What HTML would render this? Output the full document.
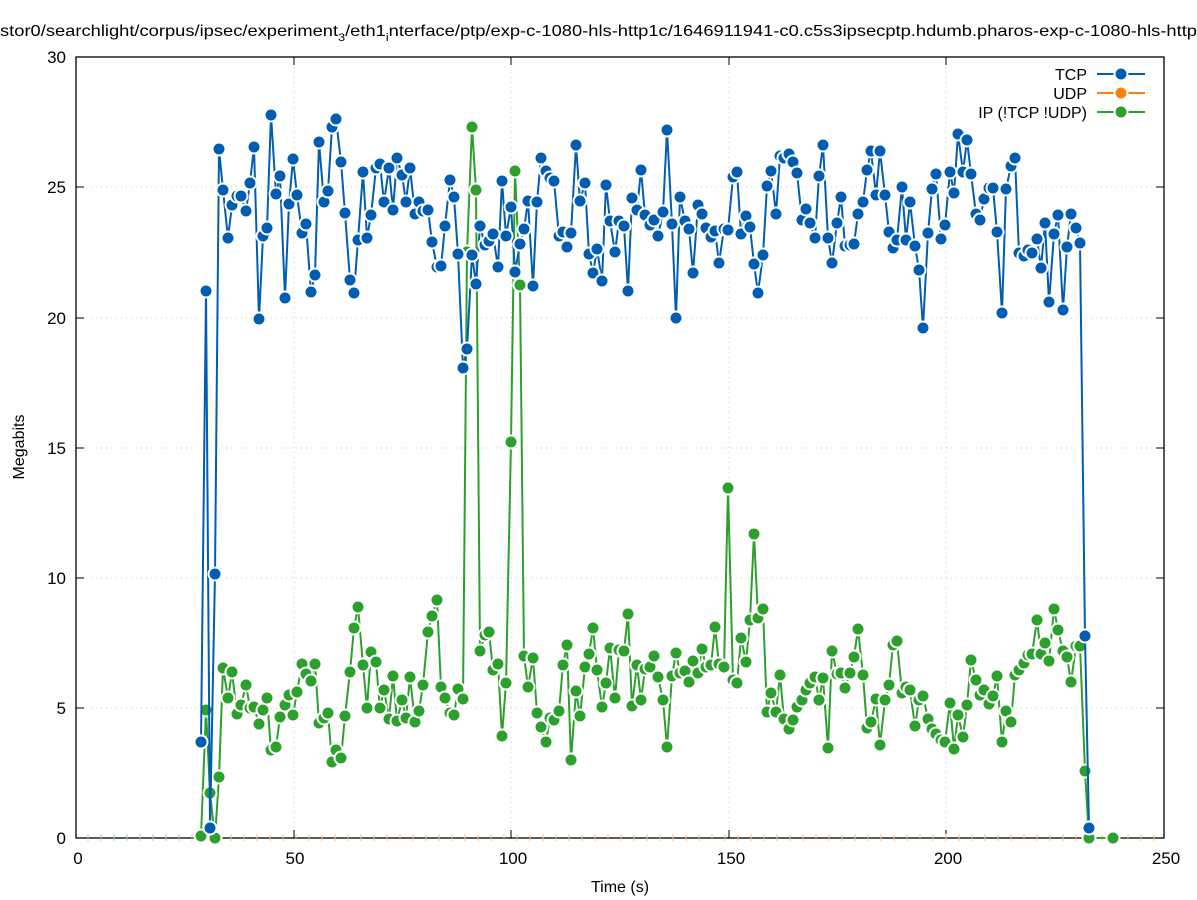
<!DOCTYPE html>
<html><head><meta charset="utf-8"><style>
html,body{margin:0;padding:0;background:#fff;}
svg{display:block;font-family:"Liberation Sans","DejaVu Sans",sans-serif;}
</style></head><body>
<svg id="s" width="1197" height="900" viewBox="0 0 1197 900" xmlns="http://www.w3.org/2000/svg">
<rect width="1197" height="900" fill="#fff"/>
<text x="0" y="36" font-size="16" textLength="1197" lengthAdjust="spacingAndGlyphs">stor0/searchlight/corpus/ipsec/experiment<tspan font-size="11" dy="5">3</tspan><tspan dy="-5">/eth1</tspan><tspan font-size="11" dy="5">i</tspan><tspan dy="-5">nterface/ptp/exp-c-1080-hls-http1c/1646911941-c0.c5s3ipsecptp.hdumb.pharos-exp-c-1080-hls-http</tspan></text>
<g stroke="#ccc" stroke-width="1" stroke-dasharray="1,4">
<line x1="294" y1="57" x2="294" y2="838"/><line x1="511" y1="57" x2="511" y2="838"/><line x1="729" y1="57" x2="729" y2="838"/><line x1="946" y1="57" x2="946" y2="838"/>
<line x1="76" y1="708" x2="1164" y2="708"/><line x1="76" y1="578" x2="1164" y2="578"/><line x1="76" y1="448" x2="1164" y2="448"/><line x1="76" y1="318" x2="1164" y2="318"/><line x1="76" y1="187" x2="1164" y2="187"/>
</g>
<rect x="76" y="57" width="1088" height="781" fill="none" stroke="#000" stroke-width="1.3"/>
<g stroke="#000" stroke-width="1">
<line x1="294" y1="838" x2="294" y2="830"/><line x1="511" y1="838" x2="511" y2="830"/><line x1="729" y1="838" x2="729" y2="830"/><line x1="946" y1="838" x2="946" y2="830"/>
<line x1="294" y1="57" x2="294" y2="65"/><line x1="511" y1="57" x2="511" y2="65"/><line x1="729" y1="57" x2="729" y2="65"/><line x1="946" y1="57" x2="946" y2="65"/>
<line x1="76" y1="708" x2="84" y2="708"/><line x1="76" y1="578" x2="84" y2="578"/><line x1="76" y1="448" x2="84" y2="448"/><line x1="76" y1="318" x2="84" y2="318"/><line x1="76" y1="187" x2="84" y2="187"/>
<line x1="1164" y1="708" x2="1156" y2="708"/><line x1="1164" y1="578" x2="1156" y2="578"/><line x1="1164" y1="448" x2="1156" y2="448"/><line x1="1164" y1="318" x2="1156" y2="318"/><line x1="1164" y1="187" x2="1156" y2="187"/>
</g>
<g font-size="17" text-anchor="end">
<text x="66" y="844">0</text><text x="66" y="714">5</text><text x="66" y="584">10</text><text x="66" y="454">15</text><text x="66" y="324">20</text><text x="66" y="193">25</text><text x="66" y="63">30</text>
</g>
<g font-size="17" text-anchor="middle">
<text x="78" y="864">0</text><text x="295" y="864">50</text><text x="513" y="864">100</text><text x="731" y="864">150</text><text x="948" y="864">200</text><text x="1166" y="864">250</text>
<text x="620" y="892" font-size="16">Time (s)</text>
</g>
<text x="24" y="447" font-size="16" text-anchor="middle" transform="rotate(-90 24 447)">Megabits</text>
<g font-size="16" text-anchor="end">
<text x="1087" y="80">TCP</text><text x="1087" y="99">UDP</text><text x="1087" y="118">IP (!TCP  !UDP)</text>
</g>
<g stroke-width="2">
<line x1="1097" y1="74" x2="1145" y2="74" stroke="#005db2"/>
<line x1="1097" y1="93" x2="1145" y2="93" stroke="#ff7f0e"/>
<line x1="1097" y1="112" x2="1145" y2="112" stroke="#2ca02c"/>
</g>
<g stroke="#fff" stroke-width="2">
<circle cx="1121" cy="74" r="6.5" fill="#005db2"/><circle cx="1121" cy="93" r="6.5" fill="#ff7f0e"/><circle cx="1121" cy="112" r="6.5" fill="#2ca02c"/>
</g>
<g id="ticks"></g>
<g id="green"></g>
<g id="blue"></g>
</svg>
<script>
var T=[201,742,206,291,210,828,215,574,219,149,223,190,228,238,232,205,237,196,241,196,246,211,250,183,254,147,259,319,263,236,267,228,271,115,276,194,280,176,285,298,289,204,293,159,297,195,302,233,306,224,311,292,315,275,319,142,324,202,328,191,332,127,336,119,341,162,345,213,350,280,354,293,358,240,363,172,367,238,371,215,376,168,380,164,384,202,389,168,393,210,397,158,402,175,406,202,410,168,415,214,419,202,423,211,428,210,432,242,437,267,441,266,445,226,450,180,454,197,458,254,463,368,467,349,472,255,476,284,480,226,485,245,489,241,493,234,498,267,502,181,506,236,511,207,515,272,520,244,524,229,528,201,533,286,537,202,541,158,546,171,550,178,554,181,559,236,563,232,567,247,571,233,576,145,580,201,585,183,589,254,593,273,597,249,602,281,606,185,610,221,615,252,619,221,624,226,628,291,632,198,637,210,641,170,645,215,650,225,654,220,658,236,663,212,667,130,672,224,676,318,680,197,685,221,689,229,693,273,698,205,702,214,706,228,711,237,715,231,719,263,724,229,728,230,733,177,737,172,741,234,746,216,750,227,754,264,758,293,763,255,767,186,771,171,776,214,780,156,784,158,789,154,793,162,797,173,802,220,806,209,810,223,815,238,819,176,823,145,828,238,832,263,837,223,841,197,845,246,850,245,854,244,858,214,863,202,867,170,871,151,876,195,880,151,885,195,889,232,893,248,897,240,902,187,906,240,910,202,915,246,919,270,923,328,928,233,932,189,936,174,941,239,945,225,950,172,954,193,958,134,963,172,967,140,971,174,976,214,980,220,984,199,989,188,993,188,997,232,1002,313,1006,189,1011,166,1015,158,1019,253,1024,256,1028,250,1032,253,1037,239,1041,268,1045,223,1049,302,1054,234,1058,215,1063,310,1067,247,1071,214,1076,228,1080,243,1085,636,1089,828];
var G=[201,836,206,710,210,793,215,838,219,777,223,668,228,698,232,672,237,714,241,705,246,685,250,708,254,707,259,724,263,710,267,698,271,750,276,747,280,717,285,705,289,695,293,715,297,692,302,664,306,674,311,681,315,664,319,723,324,718,328,713,332,762,336,750,341,758,345,716,350,672,354,628,358,607,363,665,367,708,371,652,376,662,380,708,384,690,389,719,393,676,397,721,402,700,406,718,410,677,415,722,419,711,423,685,428,632,432,616,437,600,441,687,445,698,450,713,454,715,458,689,463,699,467,252,472,127,476,190,480,651,485,635,489,632,493,670,498,664,502,736,506,683,511,442,515,171,520,285,524,656,528,687,533,658,537,713,541,727,546,742,550,718,554,720,559,711,563,665,567,645,571,760,576,691,580,716,585,667,589,654,593,628,597,670,602,707,606,683,610,648,615,698,619,650,624,651,628,614,632,706,637,665,641,700,645,669,650,667,654,656,658,677,663,700,667,747,672,676,676,653,680,673,685,671,689,682,693,661,698,673,702,649,706,667,711,665,715,627,719,664,724,667,728,488,733,680,737,683,741,638,746,662,750,620,754,534,758,618,763,609,767,712,771,693,776,712,780,675,784,719,789,729,793,720,797,707,802,700,806,690,810,683,815,677,819,700,823,678,828,748,832,651,837,674,841,673,845,688,850,673,854,657,858,629,863,675,867,728,871,722,876,699,880,745,885,700,889,685,893,645,897,641,902,693,906,687,910,690,915,726,919,700,923,696,928,719,932,729,936,734,941,740,945,742,950,703,954,749,958,715,963,737,967,705,971,660,976,680,980,695,984,690,989,704,993,696,997,676,1002,742,1006,711,1011,722,1015,675,1019,670,1024,663,1028,655,1032,654,1037,620,1041,654,1045,643,1049,661,1054,609,1058,630,1063,651,1067,657,1071,682,1076,646,1080,646,1085,771,1089,838,1113,838];
var NS="http://www.w3.org/2000/svg";
function draw(id,a,c){var g=document.getElementById(id),p=[];for(var i=0;i<a.length;i+=2)p.push(a[i]+","+a[i+1]);
var l=document.createElementNS(NS,"polyline");l.setAttribute("points",p.join(" "));l.setAttribute("fill","none");l.setAttribute("stroke",c);l.setAttribute("stroke-width","2");g.appendChild(l);
for(var i=0;i<a.length;i+=2){var e=document.createElementNS(NS,"circle");e.setAttribute("cx",a[i]);e.setAttribute("cy",a[i+1]);e.setAttribute("r","6.5");e.setAttribute("fill",c);e.setAttribute("stroke","#fff");e.setAttribute("stroke-width","2");g.appendChild(e);}}
var tk=document.getElementById("ticks");
for(var x=88;x<1160;x+=13){var t=document.createElementNS(NS,"line");t.setAttribute("x1",x);t.setAttribute("x2",x);t.setAttribute("y1",834);t.setAttribute("y2",841);t.setAttribute("stroke",x<205?"#9fd49f":"#ffbf87");t.setAttribute("stroke-width","1");tk.appendChild(t);}
draw("green",G,"#2ca02c");draw("blue",T,"#005db2");
</script>
</body></html>
